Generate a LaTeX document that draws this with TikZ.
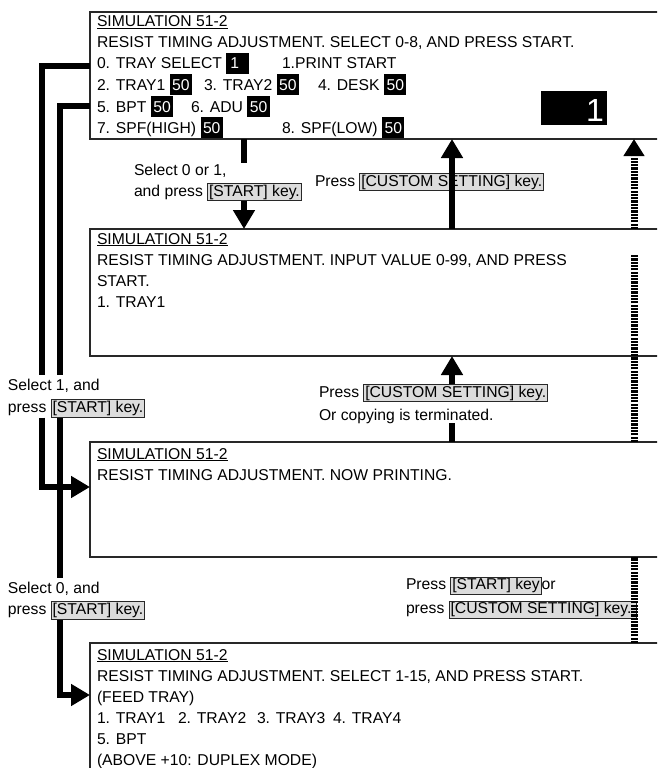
\documentclass[tikz,border=0pt]{standalone}
\usepackage{fontspec}
\setmainfont{Liberation Sans}
\usetikzlibrary{arrows.meta}
\definecolor{keyfill}{RGB}{220,220,220}
\definecolor{edgec}{RGB}{40,40,40}
\newcommand\nb[2][2.5pt]{{\setlength{\fboxsep}{0pt}\colorbox{black}{\rule[-5pt]{0pt}{21pt}\hspace{#1}\textcolor{white}{#2}\hspace{#1}}}}
\newcommand\nbone{{\setlength{\fboxsep}{0pt}\colorbox{black}{\rule[-5pt]{0pt}{21pt}\hspace{4pt}\textcolor{white}{1}\hspace{9.4pt}}}}
\newcommand\kb[1]{{\setlength{\fboxsep}{1pt}\setlength{\fboxrule}{0.8pt}\fcolorbox{edgec}{keyfill}{\rule[-3pt]{0pt}{14pt}#1}}}
\begin{document}
\begin{tikzpicture}[x=1pt,y=-1pt,
  every node/.style={font=\fontsize{15.7}{21}\selectfont, inner sep=0pt, outer sep=0pt},
  screen/.style={draw=edgec, line width=1.3pt, fill=white, anchor=north west, minimum width=600pt},
  txt/.style={anchor=base west},
  lbl/.style={anchor=north west, align=left},
  plainconn/.style={line width=6.5pt},
  conn/.style={line width=6.5pt, -{Triangle[width=21pt,length=19pt]}},
  hatch/.style={line width=7pt, dash pattern=on 2.2pt off 1.1pt},
  hatcharrow/.style={hatch, -{Triangle[width=20pt,length=17pt]}}]
\useasboundingbox (0,0) rectangle (657,768);
\clip (0,0) rectangle (657,768);

% screens
\node[screen, minimum height=127pt] (s1) at (90,12) {};
\node[screen, minimum height=127pt] (s2) at (90,229) {};
\node[screen, minimum height=115pt] (s3) at (90,442) {};
\node[screen, minimum height=128pt] (s4) at (90,643) {};

% screen 1 text
\node[txt] (t11) at (97,27) {\underline{SIMULATION 51-2}};
\node[txt] (t12) at (97,48) {RESIST TIMING ADJUSTMENT. SELECT 0-8, AND PRESS START.};
\node[txt] (t13) at (97,69) {0. TRAY SELECT \nbone};
\node[txt] (t13b) at (282,69) {1.PRINT START};
\node[txt] (t14) at (97,90) {2. TRAY1 \nb{50}};
\node[txt] (t14b) at (204,90) {3. TRAY2 \nb{50}};
\node[txt] (t14c) at (318,90) {4. DESK \nb{50}};
\node[txt] (t15) at (97,112) {5. BPT \nb{50}};
\node[txt] (t15b) at (191,112) {6. ADU \nb{50}};
\node[txt] (t16) at (97,133) {7. SPF(HIGH) \nb{50}};
\node[txt] (t16b) at (282,133) {8. SPF(LOW) \nb{50}};
\node[fill=black, anchor=north west, minimum width=66pt, minimum height=34pt] (big) at (541,91) {};
\node[anchor=base east, text=white, font=\fontsize{32}{32}\selectfont] (bign) at (604,121) {1};

% screen 2 text
\node[txt] (t21) at (97,244) {\underline{SIMULATION 51-2}};
\node[txt] (t22) at (97,265) {RESIST TIMING ADJUSTMENT. INPUT VALUE 0-99, AND PRESS};
\node[txt] (t23) at (97,286) {START.};
\node[txt] (t24) at (97,307) {1. TRAY1};

% screen 3 text
\node[txt] (t31) at (97,459) {\underline{SIMULATION 51-2}};
\node[txt] (t32) at (97,480) {RESIST TIMING ADJUSTMENT. NOW PRINTING.};

% screen 4 text
\node[txt] (t41) at (97,660) {\underline{SIMULATION 51-2}};
\node[txt] (t42) at (97,681) {RESIST TIMING ADJUSTMENT. SELECT 1-15, AND PRESS START.};
\node[txt] (t43) at (97,702) {(FEED TRAY)};
\node[txt] (t44) at (97,723) {1. TRAY1};
\node[txt] (t44b) at (178,723) {2. TRAY2};
\node[txt] (t44c) at (257,723) {3. TRAY3};
\node[txt] (t44d) at (333,723) {4. TRAY4};
\node[txt] (t45) at (97,744) {5. BPT};
\node[txt] (t46) at (97,765) {(ABOVE +10: DUPLEX MODE)};

% labels
\node[lbl] (L1) at (134,163) {\rule{0pt}{12pt}Select 0 or 1,\\and press \kb{[START] key.}};
\node[lbl] (L2) at (315,173) {Press \kb{[CUSTOM SETTING] key.}};
\node[lbl, font=\fontsize{15.7}{22}\selectfont] (L3) at (8,374.5) {\rule{0pt}{16pt}Select 1, and\\press \kb{[START] key.}};
\node[lbl, font=\fontsize{15.7}{23}\selectfont] (L4) at (319,384) {Press \kb{[CUSTOM SETTING] key.}\\Or copying is terminated.};
\node[lbl] (L5) at (8,577.5) {\rule{0pt}{16pt}Select 0, and\\press \kb{[START] key.}};
\node[lbl, font=\fontsize{15.7}{24}\selectfont] (L6) at (406,576.5) {Press \kb{[START] key}or\\press \kb{[CUSTOM SETTING] key.\hspace{3.5pt}}};

% connector positions
\coordinate (xa) at (244,0);
\coordinate (xb) at (452,0);
\coordinate (xd) at (634,0);
\coordinate (hd) at (634,255);
\coordinate (oa) at (42,66);
\coordinate (ob) at (42,487);
\coordinate (ia) at (60,106);
\coordinate (ib) at (60,695);

% screen 1 -> screen 2
\draw[plainconn] (xa |- s1.south) -- (xa |- L1.north);
\draw[conn] (xa |- L1.south) -- (xa |- s2.north);
% screen 2 -> screen 1
\draw[conn] (xb |- s2.north) -- (xb |- s1.south);
% screen 3 -> screen 2
\draw[plainconn] (xb |- s3.north) -- (xb |- L4.south);
\draw[conn] (xb |- L4.north) -- (xb |- s2.south);
% hatched return
\draw[hatch] (xd |- s4.north) -- (xd |- s3.south);
\draw[hatch] (xd |- s3.north) -- (hd);
\draw[hatcharrow] (xd |- s2.north) -- (xd |- s1.south);
% outer: screen 1 -> screen 3
\draw[plainconn] (oa -| s1.west) -- (oa) -- (oa |- L3.north);
\draw[conn] (oa |- L3.south) -- (ob) -- (ob -| s3.west);
% inner: screen 1 -> screen 4
\draw[plainconn] (ia -| s1.west) -- (ia) -- (ia |- L3.north);
\draw[plainconn] (ia |- L3.south) -- (ia |- L5.north);
\draw[conn] (ia |- L5.south) -- (ib) -- (ib -| s4.west);
\end{tikzpicture}
\end{document}
